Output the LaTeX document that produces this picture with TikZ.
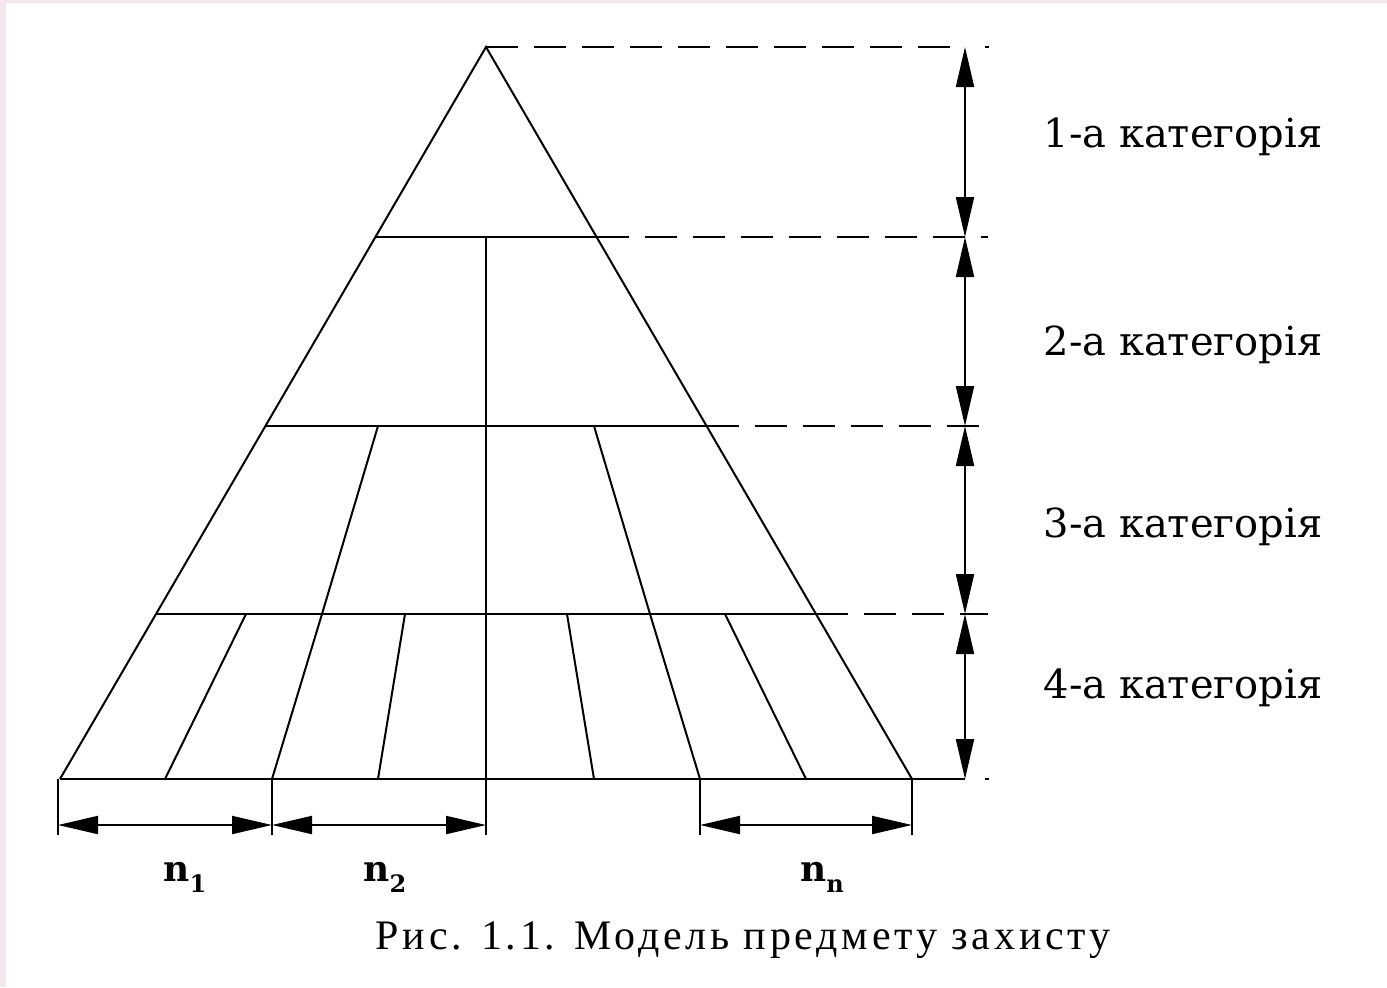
\documentclass[tikz,border=0pt]{standalone}
\usepackage{fontspec}
\setmainfont{Liberation Serif}
\newfontfamily\catfont{DejaVu Serif}
\usetikzlibrary{arrows.meta}
\definecolor{pinkedge}{RGB}{243,230,238}
\tikzset{
  edge/.style={line width=1pt},
  dashext/.style={line width=1pt, dash pattern=on 16pt off 8pt},
  dimline/.style={line width=1pt, {Triangle[length=20pt,width=9pt]}-{Triangle[length=20pt,width=9pt]}},
  catlabel/.style={font=\catfont\fontsize{20}{22}\selectfont, inner sep=0pt},
  nlabel/.style={font=\catfont\bfseries\fontsize{18}{20}\selectfont, inner sep=0pt},
  caption/.style={font=\fontsize{21}{24}\selectfont\addfontfeatures{LetterSpace=9}, inner sep=0pt}
}
\begin{document}
\begin{tikzpicture}[x=0.5pt,y=-0.5pt]
\useasboundingbox (0,0) rectangle (1387,987);
\fill[pinkedge] (0,0) rectangle (1387,987);
\fill[white] (6,3) rectangle (1387,987);
% key points
\coordinate (apex) at (486,47);
\coordinate (BL) at (60,779);
\coordinate (BR) at (912,779);
\coordinate (L1) at (375,237); \coordinate (R1) at (597,237);
\coordinate (L2) at (265,426); \coordinate (R2) at (707,426);
\coordinate (L3) at (156,614); \coordinate (R3) at (816,614);
\coordinate (C1) at (486,237);
\coordinate (Cb) at (486,835);
% triangle
\draw[edge] (BL) -- (apex) -- (BR);
\draw[edge] (L1) -- (R1);
\draw[edge] (L2) -- (R2);
\draw[edge] (L3) -- (R3);
\coordinate (D0) at (965,779);
\draw[edge] (BL) -- (D0);
\draw[edge] (C1) -- (Cb);
% inner lines
\coordinate (a1) at (378,426); \coordinate (a2) at (322,614); \coordinate (a3) at (272,779);
\coordinate (b1) at (594,426); \coordinate (b2) at (650,614); \coordinate (b3) at (700,779);
\draw[edge] (a1) -- (a2) -- (a3);
\draw[edge] (b1) -- (b2) -- (b3);
\coordinate (c1) at (246,614); \coordinate (c2) at (165,779);
\coordinate (d1) at (405,614); \coordinate (d2) at (378,779);
\coordinate (e1) at (567,614); \coordinate (e2) at (594,779);
\coordinate (f1) at (725,614); \coordinate (f2) at (806,779);
\draw[edge] (c1) -- (c2);
\draw[edge] (d1) -- (d2);
\draw[edge] (e1) -- (e2);
\draw[edge] (f1) -- (f2);
% dashed extensions
\coordinate (T0) at (965,47); \coordinate (T1) at (988,237);
\coordinate (T2) at (988,426); \coordinate (T3) at (988,614);
\draw[dashext] (apex) -- (T0);
\draw[dashext] (R1) -- (T1);
\draw[dashext] (R2) -- (T2);
\draw[dashext] (R3) -- (T3);
\coordinate (p0a) at (985,47); \coordinate (p0b) at (989,47);
\coordinate (p4a) at (985,779); \coordinate (p4b) at (989,779);
\draw[edge] (p0a) -- (p0b);
\draw[edge] (p4a) -- (p4b);
% vertical dimension
\coordinate (V0) at (965,47); \coordinate (V1) at (965,237);
\coordinate (V2) at (965,426); \coordinate (V3) at (965,614);
\coordinate (V4) at (965,779);
\draw[dimline] (V0) -- (V1);
\draw[dimline] (V1) -- (V2);
\draw[dimline] (V2) -- (V3);
\draw[dimline] (V3) -- (V4);
% bottom ticks and dimensions
\coordinate (k1) at (58,779); \coordinate (k1b) at (58,835);
\coordinate (k2) at (272,779); \coordinate (k2b) at (272,835);
\coordinate (k4) at (700,779); \coordinate (k4b) at (700,835);
\coordinate (k5) at (912,779); \coordinate (k5b) at (912,835);
\draw[edge] (k1) -- (k1b);
\draw[edge] (k2) -- (k2b);
\draw[edge] (k4) -- (k4b);
\draw[edge] (k5) -- (k5b);
\coordinate (h1) at (58,825); \coordinate (h2) at (272,825);
\coordinate (h3) at (486,825); \coordinate (h4) at (700,825);
\coordinate (h5) at (912,825);
\draw[dimline] (h1) -- (h2);
\draw[dimline] (h2) -- (h3);
\draw[dimline] (h4) -- (h5);
% labels
\node[catlabel] (cat1) at (1183,137) {1-а категорія};
\node[catlabel] (cat2) at (1183,345) {2-а категорія};
\node[catlabel] (cat3) at (1183,527) {3-а категорія};
\node[catlabel] (cat4) at (1183,688) {4-а категорія};
\node[nlabel] (n1) at (185,877) {n\raisebox{-0.3em}{\fontsize{12}{12}\selectfont 1}};
\node[nlabel] (n2) at (385,877) {n\raisebox{-0.3em}{\fontsize{12}{12}\selectfont 2}};
\node[nlabel] (nn) at (822,877) {n\raisebox{-0.3em}{\fontsize{12}{12}\selectfont n}};
\node[caption] (cap) at (743,940) {Рис. 1.1. Модель предмету захисту};
\end{tikzpicture}
\end{document}
